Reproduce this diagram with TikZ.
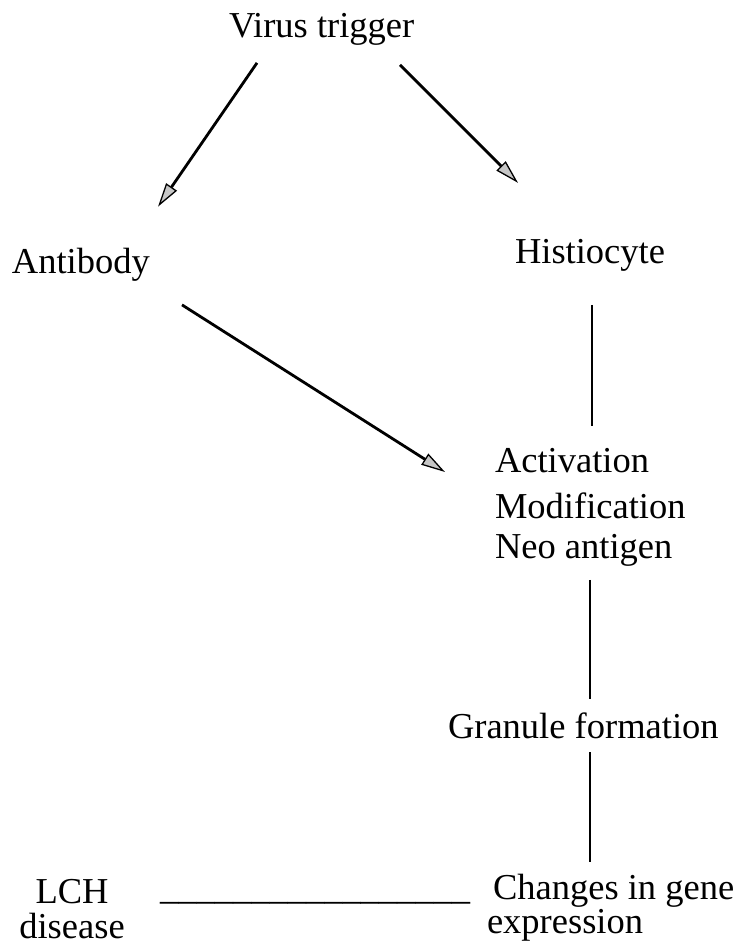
\documentclass[tikz,border=0pt]{standalone}
\usepackage{fontspec}
\setmainfont{Liberation Serif}
\usetikzlibrary{arrows.meta,calc}
\tikzset{
  lbl/.style={inner sep=0pt, outer sep=0pt, anchor=base west, font=\fontsize{36.5}{40}\selectfont},
  clbl/.style={inner sep=0pt, outer sep=0pt, anchor=base, font=\fontsize{36.5}{40}\selectfont},
  arr/.style={line width=2.8pt, -{Triangle[length=24pt,width=13pt,line width=1.3pt,fill=gray!45]}},
  vline/.style={line width=2.4pt}
}
\begin{document}
\begin{tikzpicture}[x=1pt,y=-1pt]
\useasboundingbox (0,0) rectangle (738,946);
\node[lbl] (virus) at (229,37) {Virus trigger};
\node[lbl] (antibody) at (12,273) {Antibody};
\node[lbl] (histio) at (515,263) {Histiocyte};
\node[lbl] (act) at (495,472) {Activation};
\node[lbl] (modif) at (495,518) {Modification};
\node[lbl] (neo) at (495,558) {Neo antigen};
\node[lbl] (gran) at (448,738) {Granule formation};
\node[lbl] (changes) at (493,899) {Changes in gene};
\node[lbl] (expr) at (487,933) {expression};
\node[clbl] (lch) at (72,903) {LCH};
\node[clbl] (dis) at (72,938) {disease};
\node[lbl] (under) at (160,899) {\_\_\_\_\_\_\_\_\_\_\_\_\_\_\_\_\_};
\coordinate (vx) at (590,0);
\coordinate (hx) at (592,0);
\draw[arr] ($(virus.south west)+(28,18)$) -- ($(antibody.north west)+(146,-41)$);
\draw[arr] ($(virus.south west)+(171,20)$) -- ($(histio.north west)+(3,-56)$);
\draw[arr] ($(antibody.south west)+(170,24)$) -- ($(act.base west)+(-50,0)$);
\draw[vline] ([yshift=-34pt]histio.south -| hx) -- ([yshift=22pt]act.north -| hx);
\draw[vline] ([yshift=-14pt]neo.south -| vx) -- ([yshift=13pt]gran.north -| vx);
\draw[vline] ([yshift=-14pt]gran.south -| vx) -- ([yshift=12pt]changes.north -| vx);
\end{tikzpicture}
\end{document}
